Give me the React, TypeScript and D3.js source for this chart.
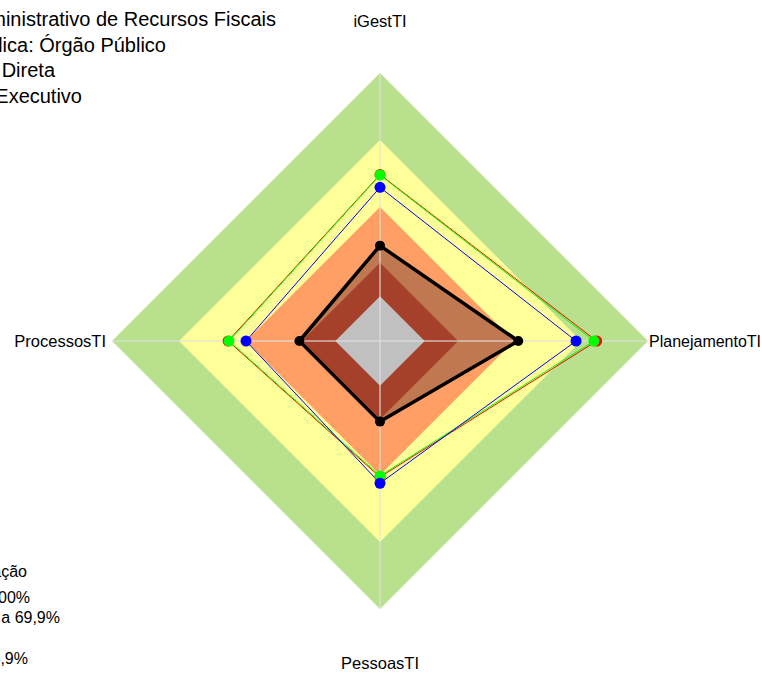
import React from "react";
import * as d3 from "d3";

// Axes (clockwise from top)
const axes = ["iGestTI", "PlanejamentoTI", "PessoasTI", "ProcessosTI"];

// Classification bands (outer to inner)
const bandValues = [1.0, 0.7, 0.4, 0.15, 0.0];
const bandColors = ["#B9E08D", "#FFFF99", "#FF9F66", "#A5402A", "#C0C0C0"];

// Series values per axis [iGestTI, PlanejamentoTI, PessoasTI, ProcessosTI]
const orgValues = [0.227, 0.419, 0.161, 0.161];
const redValues = [0.545, 0.77, 0.409, 0.48];
const greenValues = [0.543, 0.758, 0.404, 0.476];
const blueValues = [0.488, 0.678, 0.437, 0.4];

// Title text (clipped at left in the reference)
const titleLines = [
  "Conselho Administrativo de Recursos Fiscais",
  "Natureza Jurídica: Órgão Público",
  "Administração Direta",
  "Poder Executivo",
];
const titleEnds = [276, 166, 55, 82];

const legendTitle = "Classificação";
const legendItems = [
  "Aprimorado: 70% a 100%",
  "Intermediário: 40% a 69,9%",
  "",
  "Inexpressivo: 0% a 14,9%",
];
const legendEnds = [30, 60, 0, 28];

const W = 762;
const H = 675;
const cx = 380;
const cy = 341;
const R = 268;
const font = "'Liberation Sans', Arial, Helvetica, sans-serif";
const labelSize = 16.5;

export default function App() {
  const r = d3.scaleLinear().domain([-0.2, 1]).range([0, R]);
  const angle = (i: number) => (i * Math.PI) / 2;
  const line = d3
    .lineRadial<number>()
    .angle((_, i) => angle(i))
    .radius((v) => r(v))
    .curve(d3.curveLinearClosed);
  const pt = (v: number, i: number) => {
    const a = angle(i) - Math.PI / 2;
    return [Math.cos(a) * r(v), Math.sin(a) * r(v)];
  };
  const band = (v: number) => line(axes.map(() => v)) as string;

  const thinSeries = [
    { values: redValues, color: "#FF0000" },
    { values: greenValues, color: "#00FF00" },
    { values: blueValues, color: "#0000FF" },
  ];

  return (
    <svg
      width={W}
      height={H}
      style={{ position: "absolute", left: 0, top: 0, background: "#fff" }}
      fontFamily={font}
    >
      <g transform={`translate(${cx},${cy})`}>
        {bandValues.slice(0, 3).map((v, k) => (
          <path key={"b" + k} d={band(v)} fill={bandColors[k]} />
        ))}
        <path d={line(orgValues) as string} fill="#C07850" />
        {bandValues.slice(3).map((v, k) => (
          <path key={"c" + k} d={band(v)} fill={bandColors[k + 3]} />
        ))}
        {axes.map((_, i) => {
          const [x, y] = pt(1, i);
          return (
            <line
              key={"s" + i}
              x1={0}
              y1={0}
              x2={x}
              y2={y}
              stroke="#E0E0E0"
              strokeOpacity={0.75}
              strokeWidth={1.5}
            />
          );
        })}
        {thinSeries.map((s, k) => (
          <g key={"t" + k}>
            <path d={line(s.values) as string} fill="none" stroke={s.color} strokeWidth={1} />
          </g>
        ))}
        {thinSeries.map((s, k) => (
          <g key={"m" + k}>
            {s.values.map((v, i) => {
              const [x, y] = pt(v, i);
              return <circle key={i} cx={x} cy={y} r={5.5} fill={s.color} />;
            })}
          </g>
        ))}
        <path d={line(orgValues) as string} fill="none" stroke="#000" strokeWidth={3.5} strokeLinejoin="miter" />
        {orgValues.map((v, i) => {
          const [x, y] = pt(v, i);
          return <circle key={"o" + i} cx={x} cy={y} r={5} fill="#000" />;
        })}
        {/* axis labels */}
        <text x={0} y={-R - 46} textAnchor="middle" fontSize={labelSize} fill="#000">
          {axes[0]}
        </text>
        <text x={R + 1} y={6} textAnchor="start" fontSize={16} fill="#000">
          {axes[1]}
        </text>
        <text x={0} y={R + 60} textAnchor="middle" fontSize={labelSize} fill="#000">
          {axes[2]}
        </text>
        <text x={-R - 6} y={6} textAnchor="end" fontSize={labelSize} fill="#000">
          {axes[3]}
        </text>
      </g>
      {titleLines.map((t, i) => (
        <text key={"ti" + i} x={titleEnds[i]} y={26 + i * 25.5} textAnchor="end" fontSize={20} fill="#000">
          {t}
        </text>
      ))}
      <text x={27} y={577} textAnchor="end" fontSize={16} fill="#000">
        {legendTitle}
      </text>
      {legendItems.map((t, i) =>
        t ? (
          <text key={"l" + i} x={legendEnds[i]} y={603 + i * 20.3} textAnchor="end" fontSize={16} fill="#000">
            {t}
          </text>
        ) : null
      )}
    </svg>
  );
}
